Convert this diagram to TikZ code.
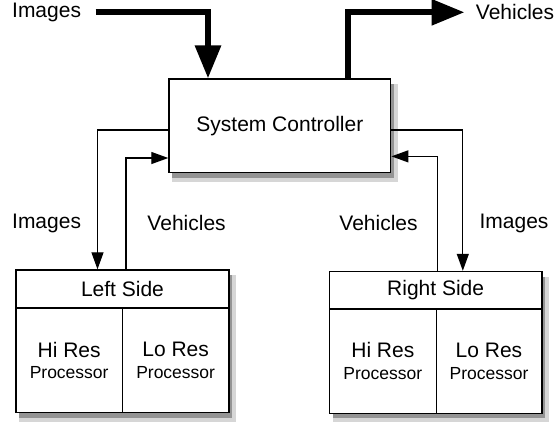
\documentclass[tikz,border=0pt]{standalone}
\usepackage{fontspec}
\setmainfont{Liberation Sans}
\usetikzlibrary{arrows.meta}
\definecolor{shOut}{gray}{0.84}
\definecolor{shIn}{gray}{0.58}
\tikzset{
  box/.style={draw=black, line width=1.4bp, fill=white, rectangle, inner sep=0pt},
  cell/.style={draw=black, line width=1.4bp, rectangle, inner sep=0pt, align=center},
  big/.style={font=\fontsize{21bp}{23.5bp}\selectfont},
  thickarrow/.style={line width=6bp, -{Triangle[length=33bp,width=25bp]}},
  thinarrow/.style={line width=1.2bp, -{Triangle[length=17bp,width=12bp]}},
  lbl/.style={big, inner sep=0pt},
  shadowout/.style={fill=shOut, draw=none},
  shadowin/.style={fill=shIn, draw=none}
}
\newcommand{\proc}{\fontsize{17.5bp}{23.5bp}\selectfont Processor}
\begin{document}
\begin{tikzpicture}[x=1bp,y=-1bp]
\useasboundingbox (0,0) rectangle (556,421);
% soft shadows (drawn first, beneath the boxes)
\path[shadowout] (172,84.1) rectangle (397.7,181.6);
\path[shadowin] (172,84.1) rectangle (393.7,177.6);
\path[shadowout] (19,275) rectangle (236,421.5);
\path[shadowin] (19,275) rectangle (232,417.5);
\path[shadowout] (332.5,276.5) rectangle (548.8,422.3);
\path[shadowin] (332.5,276.5) rectangle (544.8,418.3);
% system controller
\node[box, minimum width=221.7bp, minimum height=93.5bp, big] (C) at (279.85,125.85) {System Controller};
% left side
\node[box, minimum width=213bp, minimum height=142.5bp] (L) at (122.5,341.25) {};
\node[cell, minimum width=213bp, minimum height=38bp, anchor=north, big] (Lh) at (L.north) {Left Side};
\node[cell, minimum width=106.3bp, minimum height=104.5bp, anchor=south west, big] (Lhi) at (L.south west) {Hi Res\\[-2bp]\proc};
\node[cell, minimum width=106.7bp, minimum height=104.5bp, anchor=south east, big] (Llo) at (L.south east) {Lo Res\\[-2bp]\proc};
% right side
\node[box, minimum width=212.3bp, minimum height=141.8bp] (R) at (435.65,342.4) {};
\node[cell, minimum width=212.3bp, minimum height=37.5bp, anchor=north, big] (Rh) at (R.north) {Right Side};
\node[cell, minimum width=106.7bp, minimum height=104.3bp, anchor=south west, big] (Rhi) at (R.south west) {Hi Res\\[-2bp]\proc};
\node[cell, minimum width=105.6bp, minimum height=104.3bp, anchor=south east, big] (Rlo) at (R.south east) {Lo Res\\[-2bp]\proc};
% top labels
\node[lbl] (timg) at (46.6,12) {Images};
\node[lbl] (tveh) at (515,12) {Vehicles};
\coordinate (imgin) at (95.7,12.3);
\coordinate (vehout) at (464.5,12.3);
\draw[thickarrow] (imgin) -| ([xshift=-71.85bp]C.north);
\draw[thickarrow] ([xshift=67.65bp]C.north) |- (vehout);
% side connectors
\draw[thinarrow] ([yshift=-4.15bp]C.west) -| ([xshift=-25bp]L.north);
\draw[thinarrow] ([xshift=3.4bp]L.north) |- ([yshift=-32.15bp]C.west);
\draw[thinarrow] ([yshift=-4.15bp]C.east) -| ([xshift=27.15bp]R.north);
\draw[thinarrow] ([xshift=1.55bp]R.north) |- ([yshift=-30.5bp]C.east);
% connector labels
\node[lbl] (limg) at (46.6,223.3) {Images};
\node[lbl] (lveh) at (186.6,223.3) {Vehicles};
\node[lbl] (rveh) at (378.5,223.3) {Vehicles};
\node[lbl] (rimg) at (514,223.3) {Images};
\end{tikzpicture}
\end{document}
